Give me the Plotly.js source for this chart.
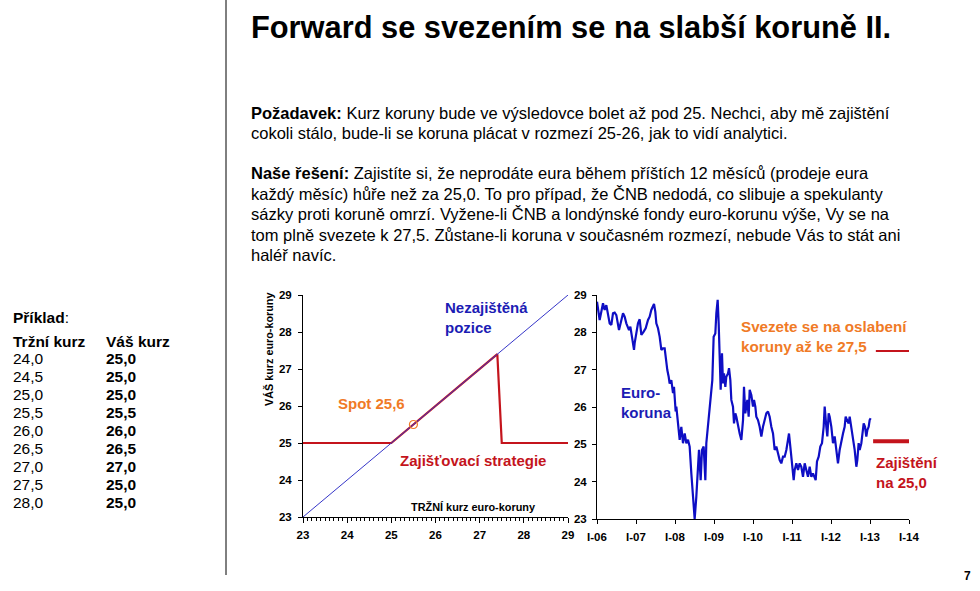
<!DOCTYPE html>
<html><head><meta charset="utf-8">
<script src="https://cdn.plot.ly/plotly-3.0.1.min.js"></script>
<style>html,body{margin:0;padding:0;background:#fff}#chart{width:980px;height:591px}</style>
</head><body><div id="chart"></div>
<script>
const W = 980, H = 591;
const FONT = 'Liberation Sans, Arial, sans-serif';

// ---- Left chart: payoff diagram ----
const unhedgedMarket = [23, 29];
const unhedgedRate = [23, 29];
const strategyMarket = [23, 25, 27.4, 27.5, 29];
const strategyRate = [25, 25, 27.4, 25, 25];
const spotMarket = [25.5];
const spotRate = [25.5];

// ---- Right chart: EUR/CZK history ----
const fxYears = [
 2006.000,2006.068,2006.154,2006.197,2006.239,2006.325,2006.368,2006.410,2006.453,2006.496,
 2006.564,2006.624,2006.667,2006.709,2006.752,2006.821,2006.855,2006.897,2006.949,2006.966,
 2007.009,2007.051,2007.094,2007.137,2007.197,2007.248,2007.308,2007.350,2007.393,2007.436,
 2007.462,2007.496,2007.521,2007.564,2007.607,2007.650,2007.692,2007.735,2007.778,2007.803,
 2007.838,2007.863,2007.906,2007.949,2007.974,2008.017,2008.034,2008.077,2008.120,2008.162,
 2008.205,2008.248,2008.291,2008.333,2008.376,2008.419,2008.462,2008.504,2008.547,2008.590,
 2008.615,2008.658,2008.692,2008.735,2008.778,2008.803,2008.846,2008.889,2008.932,2008.957,
 2008.991,2009.034,2009.060,2009.094,2009.120,2009.145,2009.171,2009.205,2009.231,2009.256,
 2009.291,2009.316,2009.359,2009.385,2009.419,2009.444,2009.487,2009.513,2009.547,2009.573,
 2009.615,2009.658,2009.701,2009.744,2009.769,2009.803,2009.829,2009.855,2009.889,2009.915,
 2009.957,2010.000,2010.026,2010.060,2010.085,2010.128,2010.171,2010.214,2010.256,2010.299,
 2010.342,2010.385,2010.427,2010.470,2010.513,2010.556,2010.598,2010.641,2010.684,2010.726,
 2010.769,2010.812,2010.855,2010.897,2010.923,2010.957,2011.000,2011.043,2011.068,2011.111,
 2011.154,2011.197,2011.239,2011.282,2011.325,2011.368,2011.410,2011.453,2011.496,2011.538,
 2011.581,2011.607,2011.641,2011.684,2011.726,2011.769,2011.812,2011.838,2011.880,2011.906,
 2011.940,2011.966,2012.009,2012.051,2012.094,2012.137,2012.179,2012.222,2012.265,2012.308,
 2012.350,2012.376,2012.410,2012.453,2012.479,2012.521,2012.564,2012.607,2012.650,2012.675,
 2012.709,2012.735,2012.778,2012.803,2012.838,2012.872,2012.906,2012.932,2012.966,2012.991,
 2013.017];
const fxRates = [
 28.82,28.33,28.78,28.60,28.73,28.24,28.20,28.51,28.53,28.46,
 28.06,28.33,28.51,28.42,28.24,28.06,28.15,27.88,27.53,27.71,
 27.97,28.24,28.35,27.93,28.02,28.11,28.33,28.42,28.60,28.73,
 28.76,28.55,28.24,28.11,27.88,27.53,27.57,27.57,27.17,26.99,
 26.81,26.63,26.72,26.37,26.54,25.88,26.01,25.47,25.12,25.47,
 25.03,25.29,25.03,25.12,24.94,24.22,23.69,23.00,23.60,24.40,
 24.85,24.04,24.85,24.94,24.04,25.03,25.56,26.10,26.54,26.72,
 27.88,27.97,28.51,28.87,28.24,27.26,26.46,27.44,26.63,26.90,
 26.54,26.81,26.90,27.04,26.72,26.19,26.01,25.56,25.83,25.74,
 25.47,25.29,25.12,25.65,26.54,25.83,26.01,26.19,25.74,26.46,
 26.32,26.01,26.19,26.01,25.74,25.65,25.47,25.21,25.47,25.65,
 25.83,25.88,25.74,25.47,25.29,24.85,24.94,24.76,24.58,24.49,
 24.67,24.67,24.85,25.12,25.29,24.94,24.40,24.04,24.31,24.49,
 24.31,24.49,24.40,24.13,24.49,24.31,24.13,24.40,24.13,24.22,
 24.13,24.04,24.54,24.67,24.94,25.03,25.47,26.01,25.47,25.21,
 25.83,25.74,25.47,25.03,25.21,24.76,24.49,24.85,25.12,25.29,
 25.47,25.74,25.65,25.56,25.74,25.47,25.12,24.85,24.40,24.58,
 25.03,24.85,25.03,25.21,25.56,25.47,25.21,25.38,25.47,25.65,
 25.70];
const capYears = [2013.15, 2014.02];
const capRate = [27.5, 27.5];
const floorYears = [2013.08, 2014.02];
const floorRate = [25.08, 25.08];
const yearTicks = [2006, 2007, 2008, 2009, 2010, 2011, 2012, 2013, 2014];
const yearLabels = ['I-06','I-07','I-08','I-09','I-10','I-11','I-12','I-13','I-14'];
const payoffTicks = [23, 24, 25, 26, 27, 28, 29];

// ---- Example table ----
const marketRates = [24.0, 24.5, 25.0, 25.5, 26.0, 26.5, 27.0, 27.5, 28.0];
const yourRates = [25.0, 25.0, 25.0, 25.5, 26.0, 26.5, 27.0, 25.0, 25.0];

// ---- Slide text ----
const slideTitle = 'Forward se svezením se na slabší koruně II.';
const bodyLines = [
 '<b>Požadavek:</b> Kurz koruny bude ve výsledovce bolet až pod 25. Nechci, aby mě zajištění',
 'cokoli stálo, bude-li se koruna plácat v rozmezí 25-26, jak to vidí analytici.',
 '',
 '<b>Naše řešení:</b> Zajistíte si, že neprodáte eura během příštích 12 měsíců (prodeje eura',
 'každý měsíc) hůře než za 25,0. To pro případ, že ČNB nedodá, co slibuje a spekulanty',
 'sázky proti koruně omrzí. Vyžene-li ČNB a londýnské fondy euro-korunu výše, Vy se na',
 'tom plně svezete k 27,5. Zůstane-li koruna v současném rozmezí, nebude Vás to stát ani',
 'haléř navíc.'
];

const px = x => x / W;
const py = y => 1 - y / H;
const fmt = v => v.toFixed(1).replace('.', ',');

const BLUE = '#1c1cb4', RED = '#c4141c', ORANGE = '#f07a26', LINEBLUE = '#0e0ec4';

const traces = [
 {x: strategyMarket, y: strategyRate, xaxis: 'x', yaxis: 'y', mode: 'lines',
  line: {color: RED, width: 2.2}, hoverinfo: 'skip', showlegend: false},
 {x: unhedgedMarket, y: unhedgedRate, xaxis: 'x', yaxis: 'y', mode: 'lines',
  line: {color: '#3636c8', width: 1}, hoverinfo: 'skip', showlegend: false},
 {x: spotMarket, y: spotRate, xaxis: 'x', yaxis: 'y', mode: 'markers',
  marker: {symbol: 'circle-open', size: 8, color: ORANGE, line: {width: 1.2, color: ORANGE}},
  showlegend: false},
 {x: fxYears, y: fxRates, xaxis: 'x2', yaxis: 'y2', mode: 'lines',
  line: {color: LINEBLUE, width: 2.2}, showlegend: false},
 {x: capYears, y: capRate, xaxis: 'x2', yaxis: 'y2', mode: 'lines', cliponaxis: false,
  line: {color: RED, width: 2}, showlegend: false},
 {x: floorYears, y: floorRate, xaxis: 'x2', yaxis: 'y2', mode: 'lines', cliponaxis: false,
  line: {color: RED, width: 4}, showlegend: false}
];

const tickFont = {family: FONT, size: 11.5, color: '#000', weight: 'bold'};

const annotations = [];
function txt(text, x, y, opts) {
  annotations.push(Object.assign({text: text, xref: 'paper', yref: 'paper', x: px(x), y: py(y),
    xanchor: 'left', yanchor: 'middle', showarrow: false, align: 'left',
    font: {family: FONT, size: 16.5, color: '#000'}}, opts || {}));
}
txt('<b>' + slideTitle + '</b>', 249, 27, {font: {family: FONT, size: 30.8, color: '#000'}});
const bodyY = [113, 133, 153, 173, 194, 214, 235, 255];
bodyLines.forEach((l, i) => { if (l) txt(l, 249, bodyY[i]); });

// table
const tf = {family: FONT, size: 15.5, color: '#000'};
txt('<b>Příklad</b>:', 11, 317, {font: tf});
txt('<b>Tržní kurz</b>', 11, 341, {font: tf});
txt('<b>Váš kurz</b>', 104, 341, {font: tf});
marketRates.forEach((v, i) => {
  const y = 358 + i * 18.1;
  txt(fmt(v), 11, y, {font: tf});
  txt('<b>' + fmt(yourRates[i]) + '</b>', 104, y, {font: tf});
});

// left chart labels
const lab = {family: FONT, size: 15, weight: 'bold'};
txt('Nezajištěná<br>pozice', 443, 317, {font: Object.assign({color: BLUE}, lab), yanchor: 'middle'});
txt('Spot 25,6', 336, 403, {font: Object.assign({color: ORANGE}, lab)});
txt('Zajišťovací strategie', 398, 460, {font: Object.assign({color: RED}, lab)});
txt('TRŽNÍ kurz euro-koruny', 473, 507, {xanchor: 'center', font: {family: FONT, size: 10.9, color: '#000', weight: 'bold'}});
annotations.push({text: 'VÁŠ kurz euro-koruny', xref: 'paper', yref: 'paper', x: px(269), y: py(350),
  xanchor: 'center', yanchor: 'middle', textangle: -90, showarrow: false,
  font: {family: FONT, size: 10.8, color: '#000', weight: 'bold'}});

// right chart labels
txt('Svezete se na oslabení<br>koruny až ke 27,5', 739, 336, {font: Object.assign({color: ORANGE}, {family: FONT, size: 15.2, weight: 'bold'})});
txt('Euro-<br>koruna', 619, 402, {font: Object.assign({color: BLUE}, lab)});
txt('Zajištění<br>na 25,0', 874, 472, {font: Object.assign({color: RED}, lab)});

// page number
txt('<b>7</b>', 962, 576, {font: {family: FONT, size: 12, color: '#000'}});

const layout = {
  width: W, height: H, margin: {l: 0, r: 0, t: 0, b: 0},
  paper_bgcolor: '#fff', plot_bgcolor: 'rgba(0,0,0,0)', showlegend: false,
  xaxis: {domain: [px(303), px(568)], range: [23, 29], tickvals: payoffTicks,
    showgrid: false, zeroline: false, showline: true, linecolor: '#000', linewidth: 1,
    ticks: 'outside', ticklen: 5, tickcolor: '#000', tickfont: tickFont, ticklabelstandoff: 2,
    minor: {dtick: 0.1, ticks: 'outside', ticklen: 3, tickcolor: '#000', showgrid: false},
    anchor: 'y', fixedrange: true},
  yaxis: {domain: [py(517), py(295)], range: [23, 29], tickvals: payoffTicks,
    showgrid: false, zeroline: false, showline: true, linecolor: '#000', linewidth: 1,
    ticks: 'outside', ticklen: 4, tickcolor: '#000', tickfont: tickFont, ticklabelstandoff: 4,
    anchor: 'x', fixedrange: true},
  xaxis2: {domain: [px(597), px(909)], range: [2006, 2014], tickvals: yearTicks, ticktext: yearLabels,
    showgrid: false, zeroline: false, showline: true, linecolor: '#000', linewidth: 1,
    ticks: 'outside', ticklen: 4, tickcolor: '#000', tickfont: tickFont, ticklabelstandoff: 3,
    anchor: 'y2', fixedrange: true},
  yaxis2: {domain: [py(519), py(295)], range: [23, 29], tickvals: payoffTicks,
    showgrid: false, zeroline: false, showline: true, linecolor: '#000', linewidth: 1,
    ticks: 'outside', ticklen: 4, tickcolor: '#000', tickfont: tickFont, ticklabelstandoff: 3,
    anchor: 'x2', fixedrange: true},
  shapes: [{type: 'line', xref: 'paper', yref: 'paper', x0: px(226), x1: px(226), y0: py(0), y1: py(575),
    line: {color: '#000', width: 1}}],
  annotations: annotations
};

Plotly.newPlot('chart', traces, layout, {staticPlot: true, displayModeBar: false});
</script></body></html>
